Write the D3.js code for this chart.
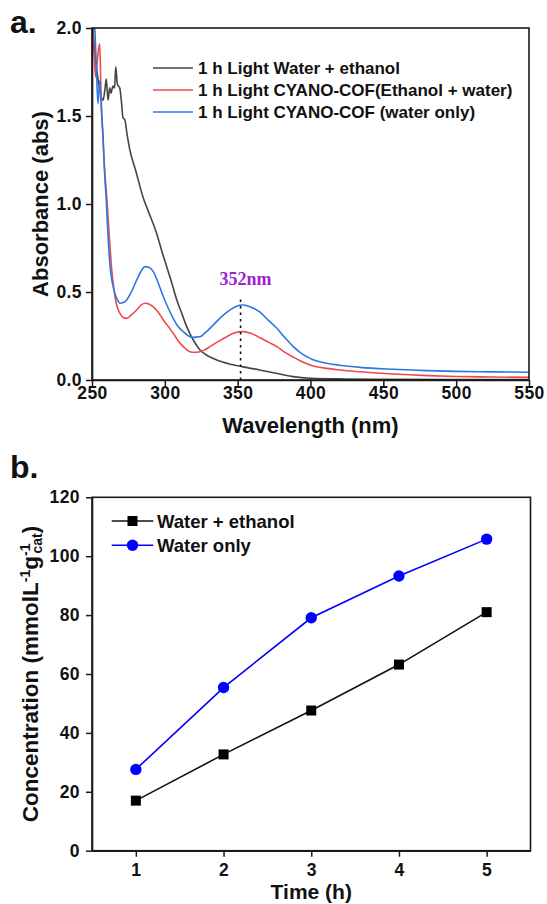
<!DOCTYPE html>
<html>
<head>
<meta charset="utf-8">
<script src="https://cdn.jsdelivr.net/npm/d3@7"></script>
<style>
  body { margin: 0; background: #fff; }
  svg { display: block; }
  text { font-family: "Liberation Sans", Arial, sans-serif; font-weight: bold; fill: #111; }
</style>
</head>
<body>
<svg id="chart" width="547" height="904"></svg>
<script>
// ---- Panel a: UV-vis spectra after 1 h of light ----
const wavelengthTicks = [250, 300, 350, 400, 450, 500, 550];
const absorbanceTicks = [0, 0.5, 1.0, 1.5, 2.0];
const spectrumNames = [
  "1 h Light Water + ethanol",
  "1 h Light CYANO-COF(Ethanol + water)",
  "1 h Light CYANO-COF (water only)"
];
const spectrumColors = ["#454545", "#f04848", "#2a78e4"];

// [wavelength nm, absorbance]
const waterEthanolSpectrum = [
  [250, 2.05], [252, 1.85], [254, 1.72], [255.5, 1.64], [257.6, 1.59], [259, 1.66],
  [259.8, 1.71], [261, 1.59], [262.2, 1.66], [263, 1.63], [264.4, 1.67], [265.5, 1.66],
  [266.3, 1.78], [267.4, 1.68], [269, 1.66], [270, 1.6], [271.3, 1.49], [272.5, 1.48],
  [274, 1.4], [275.9, 1.31], [280, 1.19], [285, 1.04], [290, 0.93], [294.4, 0.833],
  [298, 0.73], [301.3, 0.644], [305, 0.545], [308.2, 0.455], [312, 0.37], [315, 0.303],
  [320, 0.22], [324.2, 0.17], [330, 0.135], [335.6, 0.114], [345, 0.09], [353, 0.076],
  [365, 0.057], [379, 0.034], [388, 0.019], [400, 0.01], [425, 0.006], [450, 0.004],
  [500, 0.003], [550, 0.003]
];
const cofEthanolWaterSpectrum = [
  [250, 2.1], [251.5, 1.85], [252.5, 1.72], [253.5, 1.8], [254.5, 1.88], [255.3, 1.91],
  [256, 1.7], [256.4, 1.57], [257.5, 1.4], [258.5, 1.22], [260.3, 1.02], [262, 0.8],
  [263.5, 0.63], [265, 0.52], [265.8, 0.473], [267.5, 0.41], [269.2, 0.379], [271.5, 0.355],
  [273.8, 0.35], [277, 0.37], [280.7, 0.398], [284, 0.428], [286.4, 0.436], [289, 0.432],
  [292.1, 0.416], [295.5, 0.385], [299, 0.341], [302.5, 0.302], [305.8, 0.265], [309, 0.225],
  [312.7, 0.19], [317.3, 0.161], [320, 0.158], [324.2, 0.161], [327.5, 0.172], [331, 0.19],
  [336, 0.215], [342.5, 0.246], [348, 0.268], [353.2, 0.275], [358, 0.268], [365.4, 0.24],
  [371, 0.215], [376.9, 0.19], [382, 0.16], [388.2, 0.13], [394, 0.105], [399.7, 0.085],
  [405, 0.074], [411.2, 0.066], [420, 0.057], [434, 0.047], [457, 0.034], [480, 0.025],
  [500, 0.02], [525, 0.017], [550, 0.015]
];
const cofWaterOnlySpectrum = [
  [250, 2.15], [251.5, 2.05], [252.2, 1.95], [253, 1.78], [254.1, 1.57], [255.3, 1.7],
  [256.4, 1.55], [257.5, 1.38], [258.5, 1.2], [259.8, 1.02], [261, 0.82], [262.4, 0.644],
  [264, 0.55], [265.8, 0.49], [267.5, 0.455], [269.2, 0.436], [271.5, 0.44], [273.8, 0.455],
  [277, 0.5], [280.7, 0.568], [283.5, 0.615], [286.4, 0.644], [289, 0.64], [292.1, 0.616],
  [295.5, 0.55], [299, 0.473], [302.5, 0.405], [305.8, 0.35], [309, 0.305], [312.7, 0.275],
  [315, 0.258], [317.3, 0.246], [320, 0.242], [322, 0.245], [324.2, 0.246], [328, 0.27],
  [333.3, 0.313], [339, 0.36], [344.8, 0.398], [349, 0.418], [353.2, 0.426], [358, 0.418],
  [365.4, 0.385], [371, 0.34], [376.9, 0.294], [382, 0.245], [388.2, 0.19], [394, 0.15],
  [399.7, 0.123], [405, 0.106], [411.2, 0.095], [420, 0.084], [434, 0.072], [457, 0.061],
  [480, 0.053], [500, 0.049], [525, 0.046], [550, 0.044]
];
const peakWavelength = 352;
const peakLabel = "352nm";

// ---- Panel b: concentration vs. irradiation time ----
const hours = [1, 2, 3, 4, 5];
const waterEthanolConc = [17.0, 32.7, 47.6, 63.2, 81.0];
const waterOnlyConc = [27.6, 55.4, 79.1, 93.3, 105.8];
const concTicks = [0, 20, 40, 60, 80, 100, 120];
const seriesNames = ["Water + ethanol", "Water only"];

const svg = d3.select("#chart");
const tickFont = "17.5px";

function styleAxis(g) {
  g.attr("font-size", null).attr("font-family", null);
  g.selectAll("path.domain").attr("stroke", "#1a1a1a").attr("stroke-width", 1.6);
  g.selectAll(".tick line").attr("stroke", "#1a1a1a").attr("stroke-width", 1.5);
  g.selectAll(".tick text")
    .attr("fill", "#111")
    .style("font-family", "'Liberation Sans', Arial, sans-serif")
    .style("font-weight", "bold")
    .style("font-size", tickFont)
    .style("letter-spacing", "0.4px");
}

// ================= Panel a =================
const A = { left: 92, right: 529, top: 28, bottom: 380 };
const xA = d3.scaleLinear().domain([250, 550]).range([A.left, A.right]);
const yA = d3.scaleLinear().domain([0, 2]).range([A.bottom, A.top]);

svg.append("defs").append("clipPath").attr("id", "clipA")
  .append("rect").attr("x", A.left).attr("y", A.top)
  .attr("width", A.right - A.left).attr("height", A.bottom - A.top);

const lineA = d3.line().x(d => xA(d[0])).y(d => yA(d[1])).curve(d3.curveMonotoneX);
const spectra = [waterEthanolSpectrum, cofEthanolWaterSpectrum, cofWaterOnlySpectrum];

const specG = svg.append("g").attr("clip-path", "url(#clipA)");
spectra.forEach((s, i) => {
  specG.append("path").datum(s)
    .attr("fill", "none").attr("stroke", spectrumColors[i])
    .attr("stroke-width", 1.6).attr("stroke-linejoin", "round")
    .attr("d", lineA);
});

// peak marker
svg.append("line")
  .attr("x1", xA(peakWavelength)).attr("x2", xA(peakWavelength))
  .attr("y1", yA(0)).attr("y2", yA(0.47))
  .attr("stroke", "#111").attr("stroke-width", 1.6).attr("stroke-dasharray", "2.5,4");
svg.append("text")
  .attr("x", xA(peakWavelength) + 5).attr("y", yA(0.54))
  .attr("text-anchor", "middle")
  .style("font-family", "'Liberation Serif', 'Times New Roman', serif")
  .style("font-size", "18px").style("fill", "#9b1fd0")
  .text(peakLabel);

// frame + axes
svg.append("rect").attr("x", A.left).attr("y", A.top)
  .attr("width", A.right - A.left).attr("height", A.bottom - A.top)
  .attr("fill", "none").attr("stroke", "#1a1a1a").attr("stroke-width", 1.6);

svg.append("g").attr("transform", `translate(0,${A.bottom})`)
  .call(d3.axisBottom(xA).tickValues(wavelengthTicks).tickSize(6).tickSizeOuter(0).tickPadding(1).tickFormat(d3.format("d")))
  .call(styleAxis);
svg.append("g").attr("transform", `translate(${A.left},0)`)
  .call(d3.axisLeft(yA).tickValues(absorbanceTicks).tickSize(6).tickSizeOuter(0).tickPadding(4).tickFormat(d3.format(".1f")))
  .call(styleAxis);

svg.append("text").attr("x", (A.left + A.right) / 2).attr("y", 433)
  .attr("text-anchor", "middle").style("font-size", "22px").text("Wavelength (nm)");
svg.append("text")
  .attr("transform", `translate(47.5,${(A.top + A.bottom) / 2}) rotate(-90)`)
  .attr("text-anchor", "middle").style("font-size", "22px").text("Absorbance (abs)");
svg.append("text").attr("x", 10).attr("y", 33).style("font-size", "32px").text("a.");

// legend a
const legA = svg.append("g");
spectrumNames.forEach((name, i) => {
  const y = 68 + i * 22;
  legA.append("line").attr("x1", 153).attr("x2", 193).attr("y1", y).attr("y2", y)
    .attr("stroke", spectrumColors[i]).attr("stroke-width", 1.6);
  legA.append("text").attr("x", 198).attr("y", y + 6)
    .style("font-size", "17px").text(name);
});

// ================= Panel b =================
const B = { left: 92, right: 530.5, top: 497.3, bottom: 850.7 };
const xB = d3.scaleLinear().domain([0.5, 5.5]).range([B.left, B.right]);
const yB = d3.scaleLinear().domain([0, 120]).range([B.bottom, B.top]);

svg.append("rect").attr("x", B.left).attr("y", B.top)
  .attr("width", B.right - B.left).attr("height", B.bottom - B.top)
  .attr("fill", "none").attr("stroke", "#1a1a1a").attr("stroke-width", 1.6);

svg.append("g").attr("transform", `translate(0,${B.bottom})`)
  .call(d3.axisBottom(xB).tickValues(hours).tickSize(6).tickSizeOuter(0).tickPadding(7).tickFormat(d3.format("d")))
  .call(styleAxis);
svg.append("g").attr("transform", `translate(${B.left},0)`)
  .call(d3.axisLeft(yB).tickValues(concTicks).tickSize(6).tickSizeOuter(0).tickPadding(6).tickFormat(d3.format("d")))
  .call(styleAxis);

const lineB = d3.line().x((d, i) => xB(hours[i])).y(d => yB(d));

svg.append("path").datum(waterEthanolConc)
  .attr("fill", "none").attr("stroke", "#111").attr("stroke-width", 1.6).attr("d", lineB);
svg.append("path").datum(waterOnlyConc)
  .attr("fill", "none").attr("stroke", "#0000ff").attr("stroke-width", 1.6).attr("d", lineB);

svg.append("g").selectAll("rect").data(waterEthanolConc).join("rect")
  .attr("x", (d, i) => xB(hours[i]) - 5).attr("y", d => yB(d) - 5)
  .attr("width", 10).attr("height", 10).attr("fill", "#000");
svg.append("g").selectAll("circle").data(waterOnlyConc).join("circle")
  .attr("cx", (d, i) => xB(hours[i])).attr("cy", d => yB(d))
  .attr("r", 5.7).attr("fill", "#0000ff");

svg.append("text").attr("x", (B.left + B.right) / 2).attr("y", 899)
  .attr("text-anchor", "middle").style("font-size", "21px").text("Time (h)");

const yTitle = svg.append("text")
  .attr("transform", `translate(38,${(B.top + B.bottom) / 2}) rotate(-90)`)
  .attr("text-anchor", "middle").style("font-size", "22.5px");
yTitle.append("tspan").text("Concentration (mmolL");
yTitle.append("tspan").attr("dy", -8).style("font-size", "14px").text("-1");
yTitle.append("tspan").attr("dy", 8).text("g");
yTitle.append("tspan").attr("dy", -8).style("font-size", "14px").text("-1");
yTitle.append("tspan").attr("dx", -10).attr("dy", 12).style("font-size", "14px").text("cat");
yTitle.append("tspan").attr("dy", -4).text(")");

svg.append("text").attr("x", 10).attr("y", 478).style("font-size", "32px").text("b.");

// legend b
const legB = svg.append("g");
[0, 1].forEach(i => {
  const y = 521 + i * 24.3;
  const col = i === 0 ? "#111" : "#0000ff";
  legB.append("line").attr("x1", 111.7).attr("x2", 153.3).attr("y1", y).attr("y2", y)
    .attr("stroke", col).attr("stroke-width", 1.6);
  if (i === 0) {
    legB.append("rect").attr("x", 132.5 - 5).attr("y", y - 5).attr("width", 10).attr("height", 10).attr("fill", "#000");
  } else {
    legB.append("circle").attr("cx", 132.5).attr("cy", y).attr("r", 5.7).attr("fill", "#0000ff");
  }
  legB.append("text").attr("x", 157).attr("y", y + 6.5)
    .style("font-size", "18.5px").text(seriesNames[i]);
});
</script>
</body>
</html>
